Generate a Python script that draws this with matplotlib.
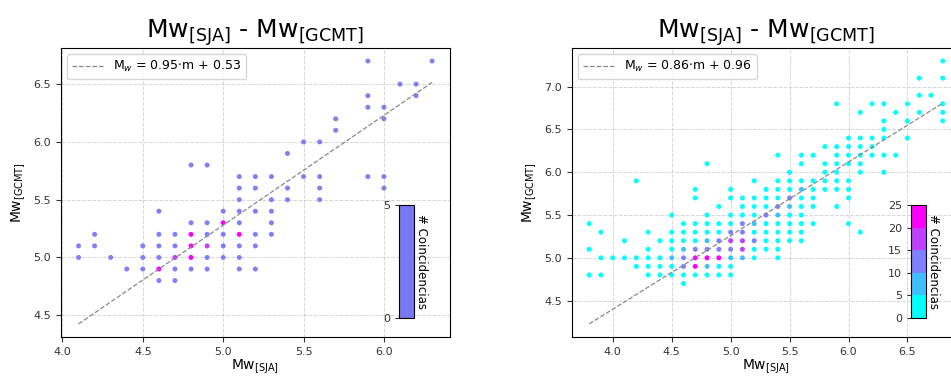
import numpy as np
import matplotlib
matplotlib.use("Agg")
import matplotlib.pyplot as plt
from matplotlib.colors import ListedColormap, Normalize, BoundaryNorm
import matplotlib.cm as cm

# ── Data: left panel (Mw SJA, Mw GCMT, count) ────────────────────────────────
left_x = [4.1, 4.1, 4.2, 4.2, 4.3, 4.4, 4.5, 4.5, 4.5,
          4.6, 4.6, 4.6, 4.6, 4.6, 4.6,
          4.7, 4.7, 4.7, 4.7, 4.7,
          4.8, 4.8, 4.8, 4.8, 4.8, 4.8,
          4.9, 4.9, 4.9, 4.9, 4.9, 4.9,
          5.0, 5.0, 5.0, 5.0, 5.0,
          5.1, 5.1, 5.1, 5.1, 5.1, 5.1, 5.1, 5.1, 5.1,
          5.2, 5.2, 5.2, 5.2, 5.2, 5.2,
          5.3, 5.3, 5.3, 5.3, 5.3,
          5.4, 5.4, 5.4, 5.5, 5.5,
          5.6, 5.6, 5.6, 5.6, 5.7, 5.7,
          5.9, 5.9, 5.9, 5.9, 6.0, 6.0, 6.0, 6.0,
          6.1, 6.2, 6.2, 6.3]
left_y = [5.1, 5.0, 5.2, 5.1, 5.0, 4.9, 5.1, 5.0, 4.9,
          5.4, 5.2, 5.1, 5.0, 4.9, 4.8,
          5.2, 5.1, 5.0, 4.9, 4.8,
          5.8, 5.3, 5.2, 5.1, 5.0, 4.9,
          5.8, 5.3, 5.2, 5.1, 5.0, 4.9,
          5.4, 5.3, 5.2, 5.1, 5.0,
          5.7, 5.6, 5.5, 5.4, 5.3, 5.2, 5.1, 5.0, 4.9,
          5.7, 5.6, 5.4, 5.2, 5.1, 4.9,
          5.7, 5.5, 5.4, 5.3, 5.2,
          5.9, 5.6, 5.5, 6.0, 5.7,
          6.0, 5.7, 5.6, 5.5, 6.2, 6.1,
          6.7, 6.4, 6.3, 5.7, 6.3, 6.2, 5.7, 5.6,
          6.5, 6.5, 6.4, 6.7]
left_n = [1, 1, 1, 1, 1, 1, 1, 1, 1,
          1, 1, 1, 1, 4, 1,
          1, 1, 3, 1, 1,
          1, 1, 4, 4, 4, 1,
          1, 1, 1, 3, 1, 1,
          1, 4, 1, 1, 1,
          1, 1, 1, 1, 1, 4, 1, 1, 1,
          1, 1, 1, 1, 1, 1,
          1, 1, 1, 1, 1,
          1, 1, 1, 1, 1,
          1, 1, 1, 1, 1, 1,
          1, 1, 1, 1, 1, 1, 1, 1,
          1, 1, 1, 1]

# ── Data: right panel (Mw SJA, Mw GCMT, count) ───────────────────────────────
right_cols = {
    3.8: [(5.4, 1), (5.1, 1), (4.8, 1)],
    3.9: [(5.3, 1), (5.0, 1), (4.8, 1)],
    4.0: [(5.0, 1)],
    4.1: [(5.2, 1), (5.0, 1)],
    4.2: [(5.9, 1), (5.0, 1), (4.9, 1)],
    4.3: [(5.3, 1), (5.1, 1), (5.0, 2), (4.9, 1), (4.8, 1)],
    4.4: [(5.2, 1), (5.0, 2), (4.9, 1), (4.8, 1)],
    4.5: [(5.5, 3), (5.3, 1), (5.2, 2), (5.1, 3), (5.0, 8), (4.9, 3), (4.8, 1)],
    4.6: [(5.4, 1), (5.3, 2), (5.2, 3), (5.1, 7), (5.0, 12), (4.9, 13), (4.8, 2), (4.7, 1)],
    4.7: [(5.8, 1), (5.7, 1), (5.4, 2), (5.3, 3), (5.2, 4), (5.1, 11), (5.0, 22), (4.9, 21), (4.8, 3)],
    4.8: [(6.1, 1), (5.5, 1), (5.4, 2), (5.3, 3), (5.2, 6), (5.1, 12), (5.0, 22), (4.9, 8), (4.8, 2)],
    4.9: [(5.6, 1), (5.4, 2), (5.3, 4), (5.2, 14), (5.1, 11), (5.0, 21), (4.9, 4), (4.8, 2)],
    5.0: [(5.8, 1), (5.7, 1), (5.5, 2), (5.4, 3), (5.3, 11), (5.2, 16), (5.1, 12), (5.0, 7), (4.9, 2), (4.8, 1)],
    5.1: [(5.7, 2), (5.6, 3), (5.5, 4), (5.4, 10), (5.3, 11), (5.2, 15), (5.1, 17), (5.0, 6)],
    5.2: [(5.9, 1), (5.7, 2), (5.6, 2), (5.5, 4), (5.4, 6), (5.3, 4), (5.2, 10), (5.1, 2), (5.0, 1)],
    5.3: [(5.8, 2), (5.7, 3), (5.6, 4), (5.5, 11), (5.4, 4), (5.3, 3), (5.2, 2), (5.1, 1)],
    5.4: [(6.2, 1), (5.9, 2), (5.8, 3), (5.7, 4), (5.6, 11), (5.5, 6), (5.4, 3), (5.3, 2), (5.2, 2), (5.1, 1), (5.0, 1)],
    5.5: [(6.0, 1), (5.9, 2), (5.8, 4), (5.7, 10), (5.6, 7), (5.5, 3), (5.4, 2), (5.3, 1), (5.2, 1)],
    5.6: [(6.2, 1), (6.1, 1), (5.9, 3), (5.8, 9), (5.7, 4), (5.6, 3), (5.5, 2), (5.4, 1), (5.3, 1), (5.2, 1)],
    5.7: [(6.2, 1), (5.9, 2), (5.8, 3), (5.7, 2), (5.6, 1), (5.4, 1)],
    5.8: [(6.3, 1), (6.1, 2), (6.0, 3), (5.9, 2), (5.8, 1)],
    5.9: [(6.8, 1), (6.3, 1), (6.2, 2), (6.1, 3), (6.0, 4), (5.9, 2), (5.8, 1), (5.6, 1)],
    6.0: [(6.4, 1), (6.3, 2), (6.2, 2), (6.1, 3), (5.9, 1), (5.8, 1), (5.7, 1), (5.4, 1)],
    6.1: [(6.7, 1), (6.4, 1), (6.3, 2), (6.2, 2), (6.1, 1), (6.0, 1), (5.3, 1)],
    6.2: [(6.8, 1), (6.4, 1), (6.3, 4), (6.2, 1)],
    6.3: [(6.8, 1), (6.6, 1), (6.5, 2), (6.4, 2), (6.2, 1), (6.0, 1)],
    6.4: [(6.7, 1), (6.2, 1)],
    6.5: [(6.8, 1), (6.6, 1), (6.4, 1)],
    6.6: [(7.1, 1), (6.9, 1), (6.7, 1)],
    6.7: [(6.9, 1)],
    6.8: [(7.3, 1), (7.1, 1), (6.8, 1), (6.7, 1), (6.6, 1)],
}
right_x = [x for x, pts in right_cols.items() for _ in pts]
right_y = [y for pts in right_cols.values() for y, _ in pts]
right_n = [n for pts in right_cols.values() for _, n in pts]

# linear fits shown in the legends
fit_left = (0.95, 0.53)
fit_right = (0.86, 0.96)

# ── Figure ────────────────────────────────────────────────────────────────────
fig = plt.figure(figsize=(9.51, 3.77), dpi=100)
ax1 = fig.add_axes([0.064, 0.106, 0.409, 0.767])
ax2 = fig.add_axes([0.601, 0.106, 0.409, 0.767])

cmap_right = plt.get_cmap('cool', 5)
norm_right = Normalize(0, 25)
cmap_left = ListedColormap(['#7f7ff8', '#7f7ff8', '#c040ff', '#ff00ff'])
norm_left = BoundaryNorm([0.5, 1.5, 2.5, 3.5, 4.5], 4)

panels = [
    (ax1, left_x, left_y, left_n, cmap_left, norm_left, fit_left),
    (ax2, right_x, right_y, right_n, cmap_right, norm_right, fit_right),
]

for ax, xs, ys, ns, cmap, norm, (m, b) in panels:
    xs = np.array(xs)
    ax.scatter(xs, ys, c=ns, cmap=cmap, norm=norm, s=13, marker='o',
               edgecolors='none', zorder=3)
    xx = np.array([xs.min(), xs.max()])
    ax.plot(xx, m * xx + b, color='#888888', linestyle='--', linewidth=0.9,
            zorder=4, label=rf'M$_w$ = {m:.2f}$\cdot$m + {b:.2f}')
    ax.set_title(r'Mw$_{\mathrm{[SJA]}}$ - Mw$_{\mathrm{[GCMT]}}$', fontsize=18,
                 pad=3)
    ax.set_xlabel(r'Mw$_{\mathrm{[SJA]}}$', fontsize=10, labelpad=1)
    ax.set_ylabel(r'Mw$_{\mathrm{[GCMT]}}$', fontsize=10)
    ax.tick_params(labelsize=8, colors='#333333')
    ax.grid(True, linestyle='--', color='#bbbbbb', alpha=0.6, linewidth=0.7)
    ax.legend(loc='upper left', fontsize=9, handlelength=2.5)

# ── Colourbars (inset) ───────────────────────────────────────────────────────
cax1 = fig.add_axes([399 / 951, 59 / 377, 15 / 951, 113 / 377])
sm1 = cm.ScalarMappable(norm=Normalize(0, 5), cmap=ListedColormap(['#7878f2']))
cb1 = fig.colorbar(sm1, cax=cax1, ticks=[0, 5])

cax2 = fig.add_axes([911 / 951, 59 / 377, 15 / 951, 113 / 377])
sm2 = cm.ScalarMappable(norm=norm_right, cmap=cmap_right)
cb2 = fig.colorbar(sm2, cax=cax2, ticks=[0, 5, 10, 15, 20, 25])

for cb in (cb1, cb2):
    cb.ax.yaxis.set_ticks_position('left')
    cb.ax.tick_params(labelsize=8, colors='#333333', length=3)
    cb.set_label('# Coincidencias', rotation=270, fontsize=8.5, labelpad=10)
    cb.ax.yaxis.set_label_position('right')

fig.savefig('out.png', dpi=100)
